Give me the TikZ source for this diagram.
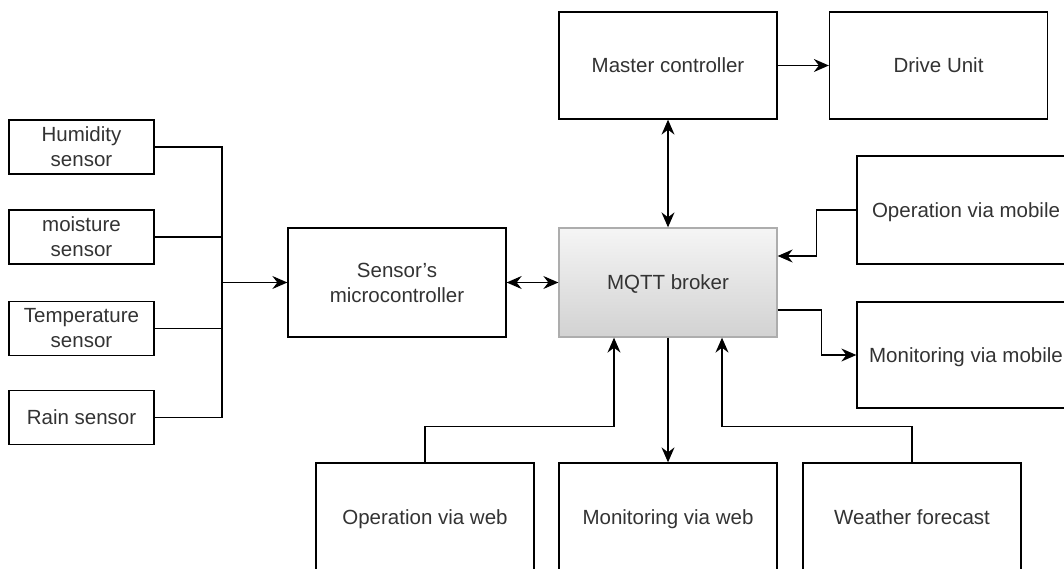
\documentclass[tikz,border=0pt]{standalone}
\usepackage{fontspec}
\setmainfont{Liberation Sans}
\usetikzlibrary{arrows.meta}
\definecolor{txt}{HTML}{333333}
\definecolor{mqttborder}{HTML}{ADADAD}
\definecolor{mqtttop}{HTML}{F5F5F5}
\definecolor{mqttbot}{HTML}{D2D2D2}
\tikzset{
  box/.style={draw=black, line width=1.3pt, rectangle, fill=white, text=txt,
    minimum width=218pt, minimum height=108pt, inner sep=0pt, align=center,
    font=\fontsize{20.5}{25}\selectfont},
  one/.style={text height=17pt, text depth=2.5pt},
  sbox/.style={box, minimum width=145pt, minimum height=54pt},
  brokerbox/.style={box, draw=mqttborder, top color=mqtttop, bottom color=mqttbot},
  link/.style={line width=1.3pt, draw=black},
  arr/.style={link, -{Stealth[length=15pt,width=13pt,inset=5pt]}},
  darr/.style={link, {Stealth[length=15pt,width=13pt,inset=5pt]}-{Stealth[length=15pt,width=13pt,inset=5pt]}}
}
\begin{document}
\begin{tikzpicture}[x=1pt,y=-1pt]
\useasboundingbox (0,0) rectangle (1064,569);
\clip (0,0) rectangle (1064,569);
\fill[white] (0,0) rectangle (1064,569);

% sensors
\node[sbox] (hum)   at (81.5,147)   {Humidity\\sensor};
\node[sbox] (moist) at (81.5,237)   {moisture\\sensor};
\node[sbox] (temp)  at (81.5,328.5) {Temperature\\sensor};
\node[sbox, one] (rain)  at (81.5,417.5) {Rain sensor};

% main boxes
\node[box, minimum height=109pt] (micro) at (397,282.5) {Sensor's\\microcontroller};
\node[brokerbox, one, minimum height=109pt] (mqtt) at (668,282.5) {MQTT broker};
\node[box, one, minimum height=107pt] (master) at (668,65.5) {Master controller};
\node[box, one, minimum height=107pt] (drive) at (938.5,65.5) {Drive Unit};
\node[box, one] (opm) at (966,210) {Operation via mobile};
\node[box, one, minimum height=106pt] (monm) at (966,355) {Monitoring via mobile};
\node[box, one] (opw) at (425,517) {Operation via web};
\node[box, one] (monw) at (668,517) {Monitoring via web};
\node[box, one] (wf) at (912,517) {Weather forecast};

% sensor bus
\coordinate (bt) at (222,147);
\coordinate (bb) at (222,417.5);
\coordinate (bm) at (222,282.5);
\draw[link] (hum.east) -- (bt) -- (bb) -- (rain.east);
\draw[link] (moist.east) -- (moist.east -| bt);
\draw[link] (temp.east) -- (temp.east -| bt);
\draw[arr] (bm) -- (micro.west);

% links
\draw[darr] (micro.east) -- (mqtt.west);
\draw[darr] (master.south) -- (mqtt.north);
\draw[arr] (master.east) -- (drive.west);
\draw[arr] (opm.west) -- ++(-40,0) |- ([yshift=26.5pt]mqtt.east);
\draw[arr] ([yshift=-27.5pt]mqtt.east) -- ++(44,0) |- (monm.west);
\draw[arr] (opw.north) -- ++(0,-36) -| ([xshift=-54pt]mqtt.south);
\draw[arr] (mqtt.south) -- (monw.north);
\draw[arr] (wf.north) -- ++(0,-36) -| ([xshift=54pt]mqtt.south);
\end{tikzpicture}
\end{document}
